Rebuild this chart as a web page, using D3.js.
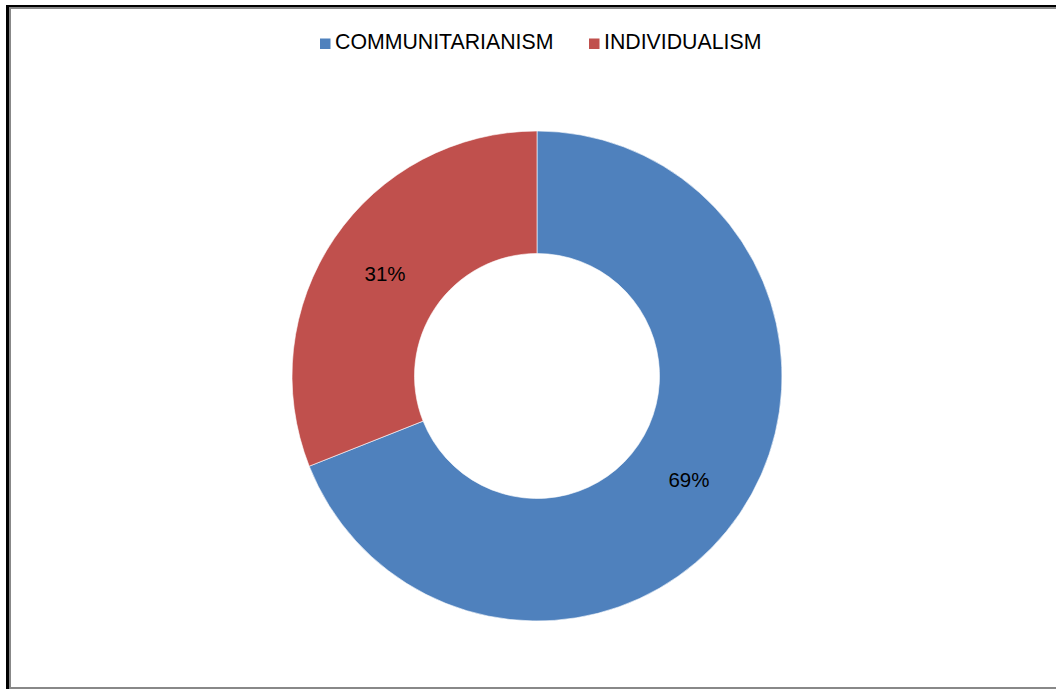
<!DOCTYPE html>
<html>
<head>
<meta charset="utf-8">
<script src="https://cdn.jsdelivr.net/npm/d3@7"></script>
<style>
  html, body { margin: 0; padding: 0; background: #fff; }
  svg { display: block; }
  text { font-family: "Liberation Sans", Arial, sans-serif; fill: #000; }
</style>
</head>
<body>
<svg id="chart" width="1056" height="689"></svg>
<script>
const categories = ["COMMUNITARIANISM", "INDIVIDUALISM"];
const values = [69, 31];
const labels = ["69%", "31%"];
const colors = ["#4F81BD", "#C0504D"];

const svg = d3.select("#chart");
const W = 1056, H = 689;

// frame (cut off on right side)
svg.append("rect").attr("x", 6).attr("y", 5).attr("width", 3).attr("height", H - 5).attr("fill", "#000");
svg.append("rect").attr("x", 6).attr("y", 5).attr("width", W - 6).attr("height", 2).attr("fill", "#000");
svg.append("rect").attr("x", 9).attr("y", 7).attr("width", 2).attr("height", H - 8).attr("fill", "#888");
svg.append("rect").attr("x", 9).attr("y", 7).attr("width", W - 9).attr("height", 2).attr("fill", "#888");
svg.append("rect").attr("x", 9).attr("y", 687).attr("width", W - 9).attr("height", 2).attr("fill", "#888");

const cx = 537, cy = 376, rOuter = 245, rInner = 122.5;
const color = d3.scaleOrdinal().domain(categories).range(colors);

const data = categories.map((c, i) => ({ cat: c, value: values[i], label: labels[i] }));
const pie = d3.pie().value(d => d.value).sort(null);
const arc = d3.arc().innerRadius(rInner).outerRadius(rOuter);

const g = svg.append("g").attr("transform", `translate(${cx},${cy})`);
const arcs = pie(data);
g.selectAll("path.slice").data(arcs).join("path")
  .attr("class", "slice")
  .attr("d", arc)
  .attr("fill", d => color(d.data.cat))
  .attr("stroke", "#fff")
  .attr("stroke-width", 0.6);

g.selectAll("text.lbl").data(arcs).join("text")
  .attr("class", "lbl")
  .attr("transform", d => `translate(${arc.centroid(d)})`)
  .attr("text-anchor", "middle")
  .attr("dy", "0.4em")
  .style("font-size", "20.5px")
  .text(d => d.data.label);

// legend
const legendX = [320, 589];
const leg = svg.append("g");
categories.forEach((c, i) => {
  leg.append("rect").attr("x", legendX[i]).attr("y", 38.5).attr("width", 10.5).attr("height", 10.5).attr("fill", color(c));
  leg.append("text").attr("x", legendX[i] + 15).attr("y", 49)
    .style("font-size", "21.3px")
    .text(c);
});
</script>
</body>
</html>
